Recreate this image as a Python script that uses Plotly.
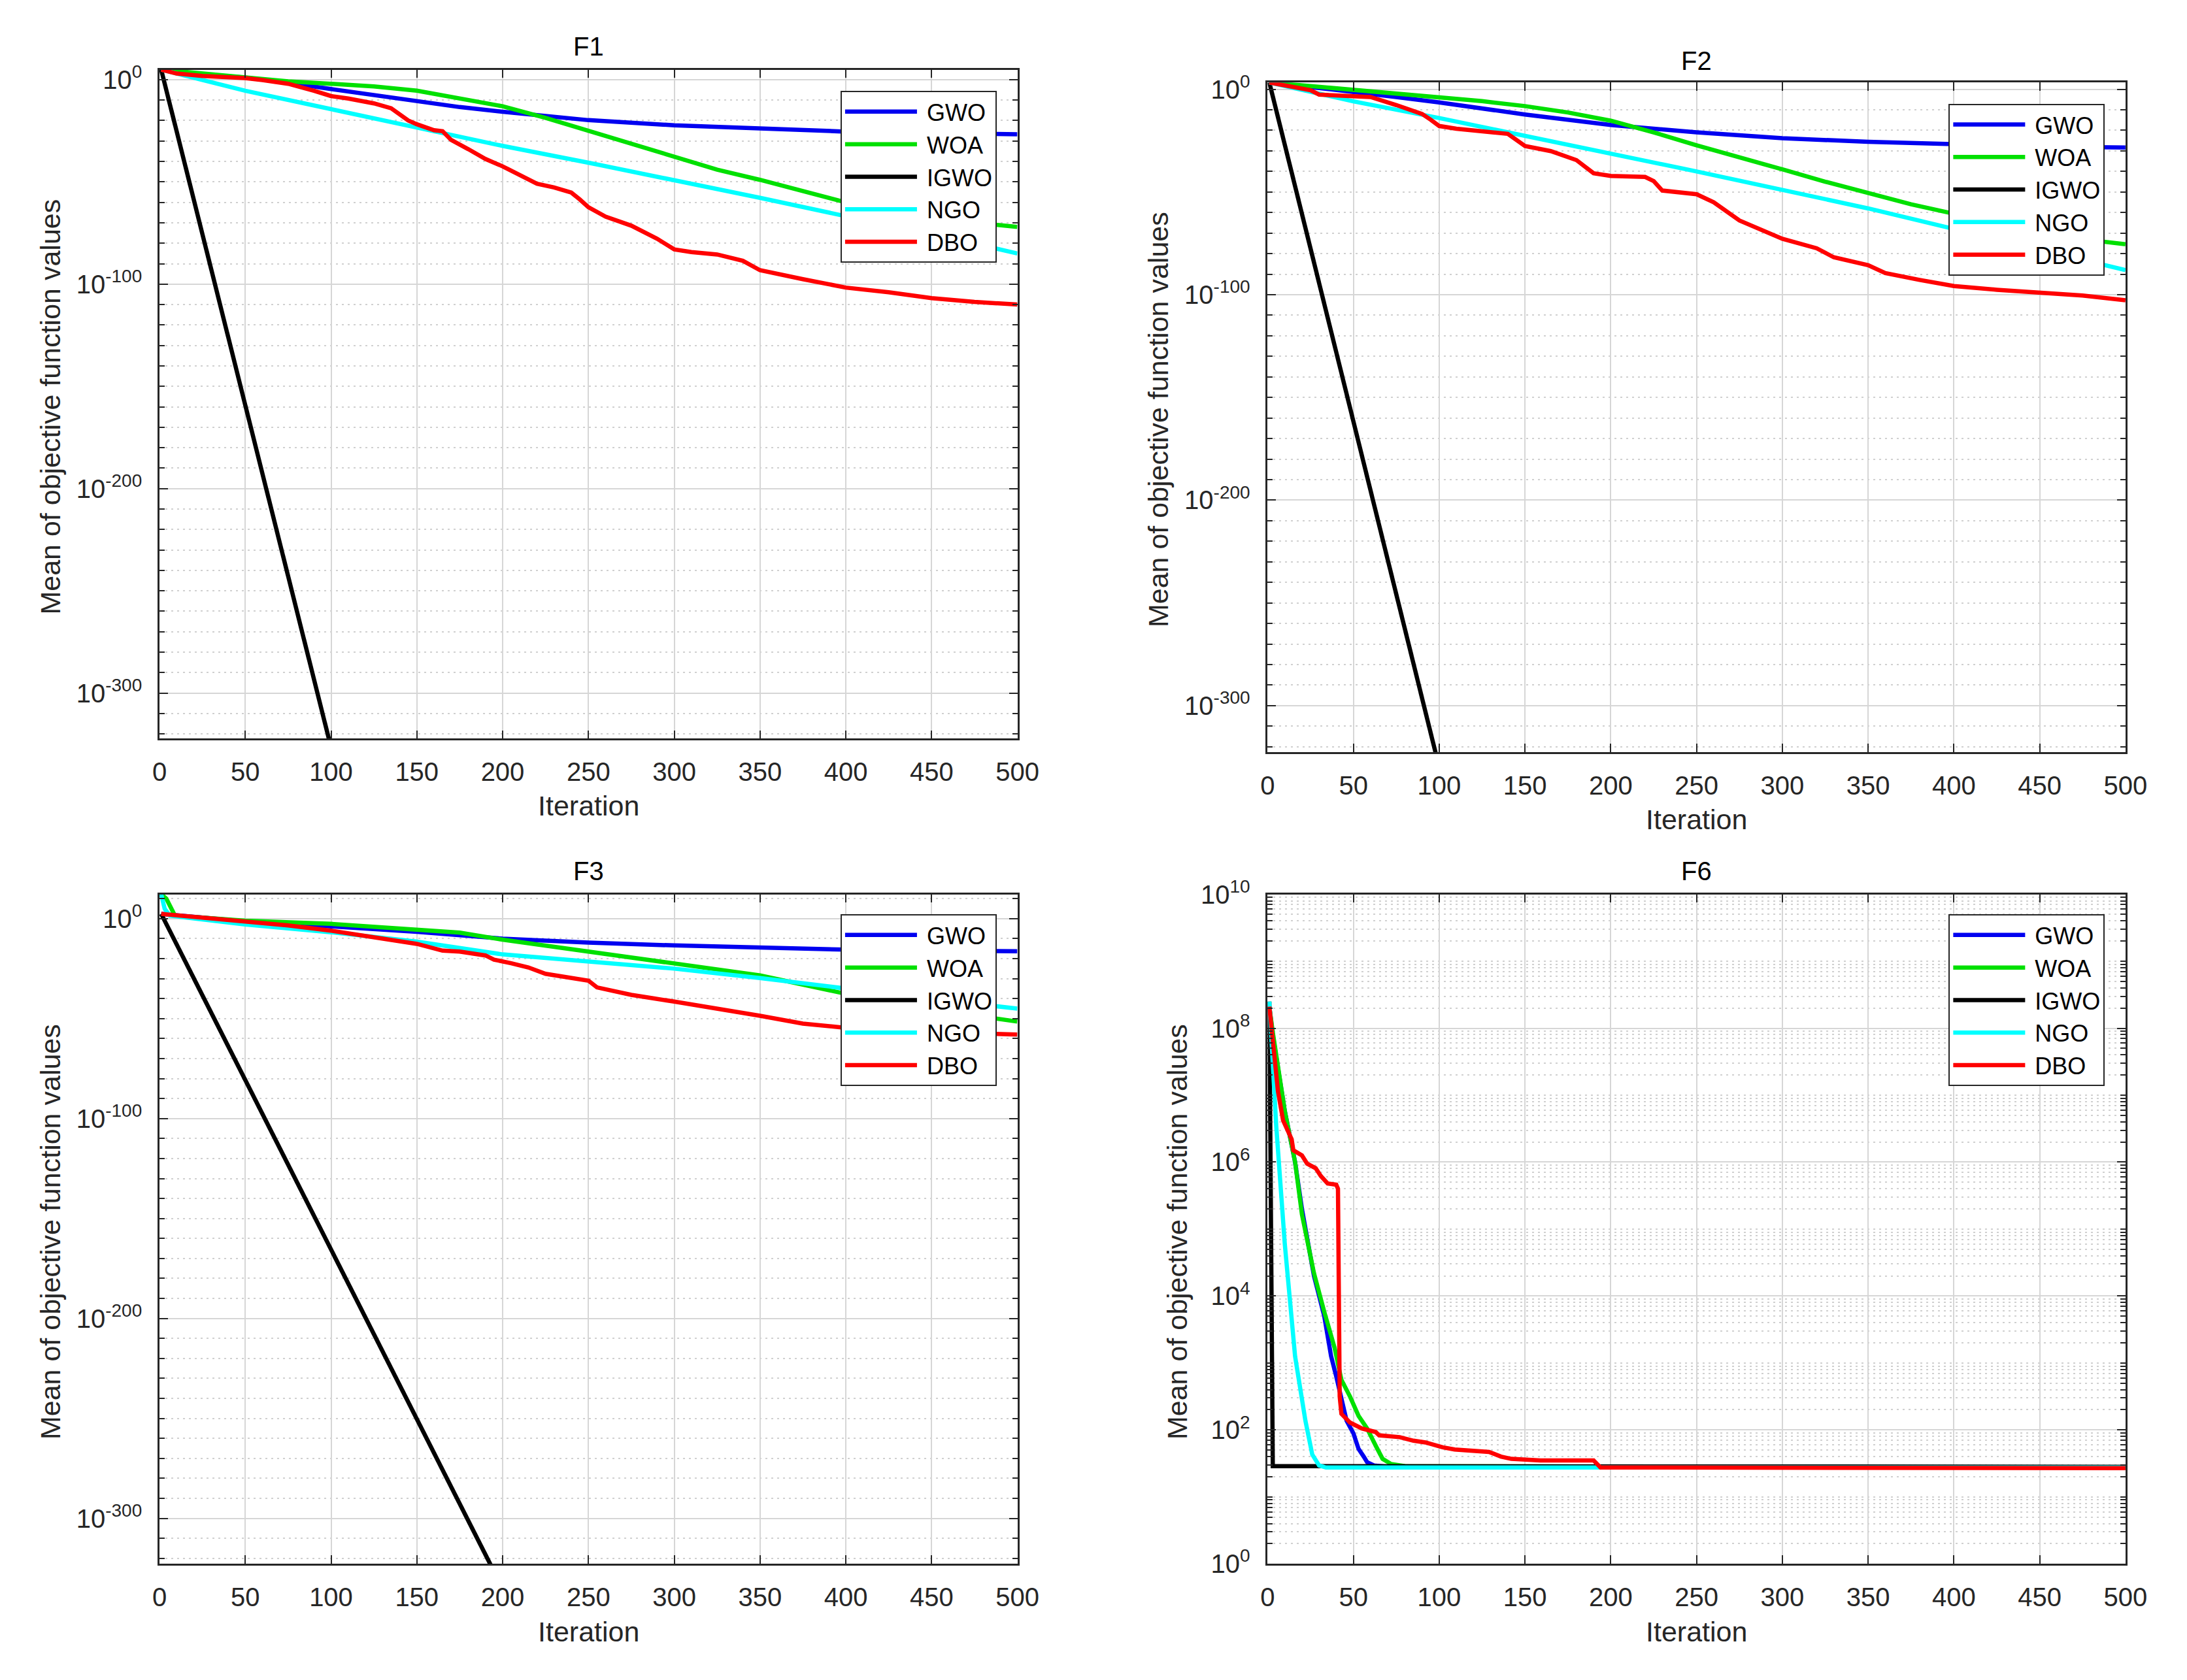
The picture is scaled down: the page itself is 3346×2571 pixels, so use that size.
import plotly.graph_objects as go

# ---------------- data ----------------
ALGOS = ["GWO", "WOA", "IGWO", "NGO", "DBO"]
COLORS = {"GWO": "#0000f0", "WOA": "#00e000", "IGWO": "#000000", "NGO": "#00ffff", "DBO": "#ff0000"}

# F1
F1_GWO_IT = [1, 25, 50, 75, 100, 125, 150, 175, 200, 225, 250, 300, 350, 400, 450, 500]
F1_GWO = [7.9e4, 4.0e2, 1.0e1, 3.2e-2, 2.5e-5, 2.0e-8, 3.2e-11, 4.0e-14, 2.0e-16, 1.0e-18, 1.6e-20,
          5.0e-23, 1.3e-24, 4.0e-26, 6.3e-27, 2.0e-27]
F1_WOA_IT = [1, 25, 50, 75, 100, 125, 150, 175, 200, 225, 250, 275, 300, 325, 350, 375, 400, 425, 450, 475, 500]
F1_WOA = [7.9e4, 1.0e3, 1.0e1, 1.6e-1, 1.0e-2, 5.0e-4, 4.0e-6, 6.3e-10, 1.0e-13, 2.0e-19, 1.0e-25,
          2.5e-32, 1.0e-38, 1.0e-44, 1.0e-49, 2.0e-55, 1.0e-60, 3.2e-65, 1.0e-68, 1.0e-70, 1.0e-72]
F1_IGWO_IT = [1, 50, 98, 99]
F1_IGWO = [7.9e4, 6.0e-161, 1.0e-322, 5e-324]
F1_NGO_IT = [1, 50, 100, 150, 200, 250, 300, 350, 400, 450, 500]
F1_NGO = [7.9e4, 4.0e-6, 4.0e-15, 4.0e-24, 4.0e-33, 2.5e-41, 1.0e-49, 1.6e-58, 1.6e-67, 5.0e-76, 1.0e-85]
F1_DBO_IT = [1, 10, 25, 50, 60, 75, 90, 100, 110, 125, 135, 145, 150, 160, 165, 170, 180, 190, 200, 210,
             220, 230, 240, 245, 250, 260, 275, 290, 300, 310, 325, 340, 345, 350, 375, 400, 425, 450, 475, 500]
F1_DBO = [7.9e4, 1.0e3, 6.3e1, 6.3e0, 6.3e-1, 1.0e-2, 4.0e-6, 1.0e-8, 6.3e-10, 2.5e-12, 1.0e-14, 1.0e-20,
          1.6e-22, 2.0e-25, 6.3e-26, 3.2e-30, 1.0e-34, 1.6e-39, 4.0e-43, 3.2e-47, 1.3e-51, 2.0e-53, 6.3e-56,
          2.5e-59, 4.0e-63, 1.0e-67, 4.0e-72, 1.6e-78, 1.0e-83, 5.0e-85, 3.2e-86, 2.5e-89, 6.3e-92, 6.3e-94,
          2.5e-98, 2.0e-102, 1.0e-104, 1.3e-107, 2.0e-109, 1.0e-110]

# F2
F2_GWO_IT = [1, 25, 50, 75, 100, 150, 200, 250, 300, 350, 400, 450, 500]
F2_GWO = [2.0e3, 1.6e1, 5.0e-2, 1.6e-4, 4.0e-7, 5.0e-13, 4.0e-18, 1.0e-21, 1.6e-24, 2.5e-26, 1.0e-27,
          1.3e-28, 4.0e-29]
F2_WOA_IT = [1, 25, 50, 75, 100, 125, 150, 175, 200, 225, 250, 275, 300, 325, 350, 375, 400, 425, 450, 475, 500]
F2_WOA = [2.0e3, 3.2e1, 3.2e-1, 1.0e-2, 1.6e-4, 1.6e-6, 6.3e-9, 5.0e-12, 5.0e-16, 1.0e-21, 5.0e-28,
          1.0e-33, 1.0e-39, 1.0e-45, 2.5e-51, 1.0e-56, 2.5e-61, 3.2e-66, 1.6e-70, 1.0e-73, 4.0e-76]
F2_IGWO_IT = [1, 50, 97, 98]
F2_IGWO = [2.0e3, 6.3e-163, 1.3e-321, 5e-324]
F2_NGO_IT = [1, 50, 100, 150, 200, 250, 300, 350, 400, 450, 500]
F2_NGO = [2.0e3, 1.3e-6, 1.0e-14, 3.2e-23, 6.3e-32, 1.0e-40, 1.0e-49, 1.0e-58, 1.0e-68, 1.0e-78, 1.0e-88]
F2_DBO_IT = [1, 10, 25, 30, 50, 60, 75, 90, 95, 100, 110, 125, 140, 150, 165, 180, 190, 200, 220, 225, 230,
             250, 260, 275, 290, 300, 320, 330, 350, 360, 380, 400, 425, 450, 475, 500]
F2_DBO = [2.0e3, 6.3e1, 3.2e-1, 2.5e-3, 5.0e-4, 1.6e-4, 2.0e-8, 1.0e-12, 1.6e-15, 1.3e-18, 6.3e-20,
          4.0e-21, 2.0e-22, 2.5e-28, 7.9e-31, 3.2e-35, 1.3e-41, 6.3e-43, 2.0e-43, 2.0e-45, 5.0e-50,
          7.9e-52, 1.0e-55, 1.3e-64, 1.0e-69, 1.6e-73, 4.0e-78, 1.6e-82, 2.5e-86, 3.2e-90, 1.6e-93,
          1.6e-96, 2.5e-98, 1.3e-99, 4.0e-101, 2.0e-103]

# F3
F3_GWO_IT = [1, 50, 100, 150, 200, 250, 300, 350, 400, 450, 500]
F3_GWO = [2.5e2, 5.0e-2, 1.3e-4, 2.5e-7, 1.0e-10, 1.0e-12, 4.0e-14, 2.0e-15, 3.2e-16, 1.3e-16, 5.0e-17]
F3_WOA_IT = [1, 4, 9, 50, 100, 150, 175, 200, 250, 300, 350, 400, 450, 500]
F3_WOA = [1.6e12, 1.0e10, 3.2e1, 1.0e-1, 2.5e-3, 5.0e-6, 1.0e-7, 3.2e-11, 3.2e-17, 5.0e-23, 4.0e-29,
          2.5e-38, 4.0e-46, 3.2e-52]
F3_IGWO_IT = [1, 100, 192, 193]
F3_IGWO = [2.5e2, 5.0e-166, 8.0e-322, 5e-324]
F3_NGO_IT = [1, 3, 6, 50, 100, 150, 200, 250, 300, 350, 400, 450, 500]
F3_NGO = [1.6e12, 1.0e5, 3.2e1, 1.3e-3, 1.6e-7, 3.2e-12, 1.3e-18, 5.0e-22, 1.0e-25, 2.0e-30, 1.0e-35,
          6.3e-41, 1.0e-45]
F3_DBO_IT = [1, 25, 50, 75, 100, 125, 150, 165, 175, 190, 195, 205, 215, 225, 240, 250, 255, 275, 300,
             325, 350, 375, 400, 450, 500]
F3_DBO = [2.5e2, 3.2e0, 2.5e-2, 4.0e-4, 1.0e-6, 6.3e-10, 2.5e-13, 1.0e-16, 3.2e-17, 4.0e-19, 3.2e-21,
          5.0e-23, 4.0e-25, 2.5e-28, 2.0e-30, 1.0e-31, 4.0e-35, 7.9e-39, 3.2e-42, 1.3e-45, 2.5e-49,
          3.2e-53, 2.5e-55, 3.2e-57, 1.0e-58]

# F6
F6_GWO_IT = [1, 3, 10, 16, 20, 27, 33, 37, 40, 46, 50, 53, 56, 58, 62, 70, 500]
F6_GWO = [2.1e8, 7.9e7, 5.8e6, 1.0e6, 2.0e5, 2.0e4, 5.0e3, 1.26e3, 6.3e2, 1.38e2, 8.9e1, 5.2e1, 4.0e1,
          3.3e1, 2.95e1, 2.82e1, 2.75e1]
F6_WOA_IT = [1, 3, 10, 16, 20, 27, 33, 39, 43, 48, 53, 58, 63, 67, 72, 80, 500]
F6_WOA = [2.1e8, 8.7e7, 5.8e6, 1.0e6, 1.66e5, 2.2e4, 5.8e3, 1.7e3, 5.6e2, 3.16e2, 1.62e2, 1.05e2, 5.8e1,
          3.7e1, 3.1e1, 2.88e1, 2.75e1]
F6_IGWO_IT = [1, 2, 3, 500]
F6_IGWO = [2.5e8, 3.2e4, 2.88e1, 2.82e1]
F6_NGO_IT = [1, 5, 10, 16, 22, 26, 30, 34, 500]
F6_NGO = [2.5e8, 3.5e6, 6.0e4, 1.26e3, 1.38e2, 4.3e1, 2.95e1, 2.75e1, 2.75e1]
F6_DBO_IT = [1, 6, 9, 14, 15, 20, 23, 28, 31, 35, 40, 41, 42, 43, 48, 55, 63, 65, 77, 85, 92, 102, 109,
             129, 136, 142, 159, 190, 194, 500]
F6_DBO = [2.1e8, 1.15e7, 4.2e6, 2.2e6, 1.5e6, 1.26e6, 9.5e5, 8.1e5, 6.2e5, 4.8e5, 4.6e5, 4.0e5, 3.16e2,
          1.74e2, 1.29e2, 1.05e2, 9.3e1, 8.3e1, 7.8e1, 6.9e1, 6.5e1, 5.5e1, 5.1e1, 4.7e1, 4.0e1, 3.7e1,
          3.5e1, 3.5e1, 2.75e1, 2.69e1]

PANELS = [
    ("F1", {"GWO": (F1_GWO_IT, F1_GWO), "WOA": (F1_WOA_IT, F1_WOA), "IGWO": (F1_IGWO_IT, F1_IGWO),
            "NGO": (F1_NGO_IT, F1_NGO), "DBO": (F1_DBO_IT, F1_DBO)}),
    ("F2", {"GWO": (F2_GWO_IT, F2_GWO), "WOA": (F2_WOA_IT, F2_WOA), "IGWO": (F2_IGWO_IT, F2_IGWO),
            "NGO": (F2_NGO_IT, F2_NGO), "DBO": (F2_DBO_IT, F2_DBO)}),
    ("F3", {"GWO": (F3_GWO_IT, F3_GWO), "WOA": (F3_WOA_IT, F3_WOA), "IGWO": (F3_IGWO_IT, F3_IGWO),
            "NGO": (F3_NGO_IT, F3_NGO), "DBO": (F3_DBO_IT, F3_DBO)}),
    ("F6", {"GWO": (F6_GWO_IT, F6_GWO), "WOA": (F6_WOA_IT, F6_WOA), "IGWO": (F6_IGWO_IT, F6_IGWO),
            "NGO": (F6_NGO_IT, F6_NGO), "DBO": (F6_DBO_IT, F6_DBO)}),
]

# ---------------- layout geometry (pixels of the 3346x2571 canvas) ----------------
W, H = 3346, 2571
FONT = "Liberation Sans, Arial, Helvetica, sans-serif"
AX = "#262626"

BOXES = [(228, 1558, 72, 1116), (1946, 3276, 92, 1137), (228, 1558, 1359, 2404), (1946, 3276, 1359, 2404)]
YRANGES = [[-322.3, 4.9], [-322.6, 3.3], [-322.8, 12.2], [0, 10]]
TITLE_Y = [36, 58, 1323, 1323]
XLABEL_Y = [1221, 1242, 2510, 2510]
YLABEL_X = [59, 1777, 59, 1806]
LEGEND_RT = [(1526, 105), (3244, 125), (1526, 1390), (3244, 1390)]

big_major = [1e0, 1e-100, 1e-200, 1e-300]
big_text = ["10<sup>0</sup>", "10<sup>-100</sup>", "10<sup>-200</sup>", "10<sup>-300</sup>"]
big_minor = [10.0 ** (-k) for k in range(10, 330, 10) if k % 100 != 0] + [1e10]
f6_major = [10.0 ** k for k in range(0, 11, 2)]
f6_text = ["10<sup>%d</sup>" % k for k in range(0, 11, 2)]
f6_minor = [m * 10.0 ** k for k in range(0, 10) for m in range(2, 10)] + [10.0 ** k for k in (1, 3, 5, 7, 9)]

fig = go.Figure()
annotations = []
layout = dict(
    width=W, height=H,
    margin=dict(l=0, r=0, t=0, b=0),
    paper_bgcolor="white", plot_bgcolor="white",
    showlegend=True,
    font=dict(family=FONT, color=AX),
)

for i, (title, series) in enumerate(PANELS):
    n = "" if i == 0 else str(i + 1)
    xa, ya = "x" + n, "y" + n
    lg = "legend" + n
    for algo in ALGOS:
        it, val = series[algo]
        fig.add_trace(go.Scatter(
            x=it, y=val, mode="lines", name=" " + algo,
            line=dict(color=COLORS[algo], width=6.5),
            xaxis=xa, yaxis=ya, legend=lg, hoverinfo="skip",
        ))
    l, r, t, b = BOXES[i]
    dom_x = [l / W, r / W]
    dom_y = [1 - b / H, 1 - t / H]
    layout["xaxis" + n] = dict(
        domain=dom_x, anchor=ya, range=[0, 500], tickmode="linear", tick0=0, dtick=50,
        showgrid=True, gridcolor="#d6d6d6", gridwidth=2, zeroline=False,
        showline=True, linecolor=AX, linewidth=2.5, mirror="ticks",
        ticks="inside", ticklen=13, tickwidth=2, tickcolor=AX,
        tickfont=dict(family=FONT, size=40, color=AX), ticklabelstandoff=14,
    )
    if i < 3:
        tv, tt, mv = big_major, big_text, big_minor
    else:
        tv, tt, mv = f6_major, f6_text, f6_minor
    layout["yaxis" + n] = dict(
        domain=dom_y, anchor=xa, type="log", range=YRANGES[i],
        tickmode="array", tickvals=tv, ticktext=tt,
        showgrid=True, gridcolor="#d6d6d6", gridwidth=2, zeroline=False,
        showline=True, linecolor=AX, linewidth=2.5, mirror="ticks",
        ticks="inside", ticklen=13, tickwidth=2, tickcolor=AX,
        tickfont=dict(family=FONT, size=40, color=AX), ticklabelstandoff=16,
        minor=dict(tickmode="array", tickvals=mv, ticks="inside", ticklen=8, tickwidth=2,
                   tickcolor=AX, showgrid=True, gridcolor="#d0d0d0", gridwidth=2, griddash="3px,6px"),
    )
    lr, lt = LEGEND_RT[i]
    layout[lg] = dict(
        x=lr / W, y=1 - lt / H, xanchor="right", yanchor="top",
        xref="paper", yref="paper",
        bgcolor="white", bordercolor=AX, borderwidth=2,
        font=dict(family=FONT, size=36, color="#000000"),
        itemwidth=110, tracegroupgap=0,
    )
    cx = (l + r) / 2 / W
    annotations.append(dict(text=title, x=cx, y=1 - TITLE_Y[i] / H, xref="paper", yref="paper",
                            showarrow=False, xanchor="center", yanchor="middle",
                            font=dict(family=FONT, size=40, color="#000000")))
    annotations.append(dict(text="Iteration", x=cx, y=1 - XLABEL_Y[i] / H, xref="paper", yref="paper",
                            showarrow=False, xanchor="center", yanchor="middle",
                            font=dict(family=FONT, size=43, color=AX)))
    annotations.append(dict(text="Mean of objective function values", x=YLABEL_X[i] / W,
                            y=1 - ((t + b) / 2 + 4) / H, xref="paper", yref="paper",
                            showarrow=False, xanchor="center", yanchor="middle", textangle=-90,
                            font=dict(family=FONT, size=43, color=AX)))

layout["annotations"] = annotations
fig.update_layout(**layout)
fig.write_html("out.html")
